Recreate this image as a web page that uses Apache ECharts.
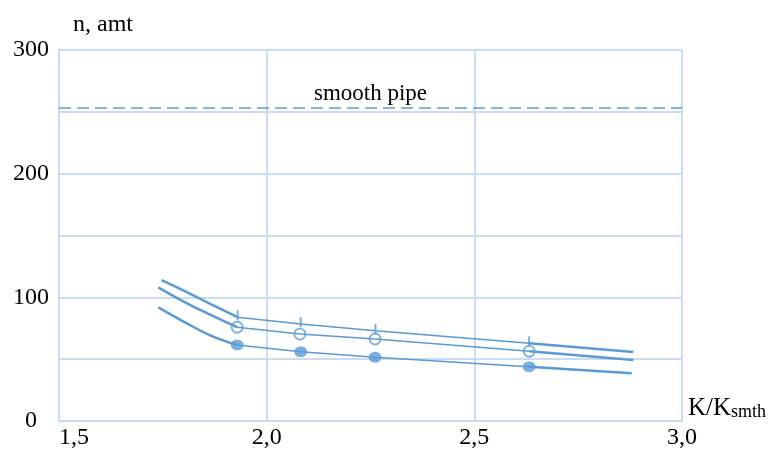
<!DOCTYPE html>
<html><head><meta charset="utf-8">
<script src="https://cdn.jsdelivr.net/npm/echarts@6.0.0/dist/echarts.min.js"></script>
<style>html,body{margin:0;padding:0;background:#fff}#c{width:776px;height:452px}</style>
</head><body><div id="c"></div>
<script>
const xTicks = [1.5, 2.0, 2.5, 3.0];
const yTicks = [0, 100, 200, 300];
const smoothPipe = 253;
const smoothPipeLabel = 'smooth pipe';
const kTop = [1.747, 1.799, 1.864, 1.930, 2.082, 2.262, 2.632, 2.883];
const nTop = [114.0, 105.7, 94.8, 83.9, 78.4, 73.0, 62.8, 55.8];
const kMid = [1.739, 1.799, 1.864, 1.929, 2.080, 2.261, 2.632, 2.883];
const nMid = [108.1, 96.8, 86.0, 75.8, 70.3, 66.3, 56.4, 49.3];
const kBot = [1.739, 1.799, 1.864, 1.929, 2.082, 2.261, 2.632, 2.879];
const nBot = [91.9, 80.6, 69.3, 61.5, 56.0, 51.5, 43.9, 38.6];
const markerIdx = [3, 4, 5, 6];

const BLUE = '#5b9bd5';
const GRID = '#cadcf2';
const FONT = '"Liberation Serif", "DejaVu Serif", serif';

function pts(k, n, from, to) {
  const out = [];
  for (let i = from; i <= to; i++) out.push([k[i], n[i]]);
  return out;
}
function curveSeries(k, n, marker) {
  const first = markerIdx[0], last = markerIdx[markerIdx.length - 1];
  return [
    { type: 'line', data: pts(k, n, 0, first), smooth: 0.4, showSymbol: false,
      lineStyle: { color: BLUE, width: 2.5 }, z: 3 },
    { type: 'line', data: pts(k, n, first, last), smooth: false, showSymbol: false,
      lineStyle: { color: BLUE, width: 1.5 }, z: 3 },
    { type: 'line', data: pts(k, n, last, k.length - 1), smooth: false, showSymbol: false,
      lineStyle: { color: BLUE, width: 2.5 }, z: 3 },
    Object.assign({ type: 'scatter', data: markerIdx.map(i => [k[i], n[i]]), z: 5 }, marker)
  ];
}

const series = [].concat(
  curveSeries(kTop, nTop, { symbol: 'rect', symbolSize: [2, 10], symbolOffset: [0, -2],
    itemStyle: { color: BLUE } }),
  curveSeries(kMid, nMid, { symbol: 'circle', symbolSize: 11,
    itemStyle: { color: 'rgba(0,0,0,0)', borderColor: BLUE, borderWidth: 1.8 } }),
  curveSeries(kBot, nBot, { symbol: 'circle', symbolSize: [13, 11],
    itemStyle: { color: BLUE } })
);
series.push({
  type: 'line', data: [], silent: true,
  markLine: {
    silent: true, symbol: ['none', 'none'],
    lineStyle: { color: BLUE, type: [12, 6], width: 1.6 },
    label: { formatter: smoothPipeLabel, position: 'insideMiddleTop', color: '#000',
      fontFamily: FONT, fontSize: 23, distance: 3 },
    data: [{ yAxis: smoothPipe }]
  }
});

const chart = echarts.init(document.getElementById('c'), null, { renderer: 'canvas' });
chart.setOption({
  animation: false,
  backgroundColor: '#fff',
  grid: { left: 59, right: 94, top: 50, bottom: 31 },
  xAxis: {
    type: 'value', min: xTicks[0], max: xTicks[xTicks.length - 1], interval: 0.5,
    name: 'K/K{s|smth}',
    nameLocation: 'end', nameGap: 6,
    nameTextStyle: {
      color: '#000', fontFamily: FONT, fontSize: 25, verticalAlign: 'bottom',
      rich: { s: { fontSize: 18, fontFamily: FONT, color: '#000', verticalAlign: 'bottom' } }
    },
    axisLine: { show: true, lineStyle: { color: GRID, width: 2 } },
    axisTick: { show: false },
    splitLine: { show: true, lineStyle: { color: GRID, width: 2 } },
    axisLabel: {
      color: '#000', fontFamily: FONT, fontSize: 24, margin: 5,
      alignMinLabel: 'left',
      formatter: v => xTicks.some(t => Math.abs(t - v) < 1e-9) ? v.toFixed(1).replace('.', ',') : ''
    }
  },
  yAxis: {
    type: 'value', min: yTicks[0], max: yTicks[yTicks.length - 1], interval: 50,
    name: 'n, amt', nameLocation: 'end', nameGap: 13,
    nameTextStyle: { color: '#000', fontFamily: FONT, fontSize: 24, align: 'left', padding: [0, 0, 0, 14] },
    axisLine: { show: true, lineStyle: { color: GRID, width: 2 } },
    axisTick: { show: false },
    splitLine: { show: true, lineStyle: { color: GRID, width: 2 } },
    axisLabel: {
      color: '#000', fontFamily: FONT, fontSize: 24, margin: 28, align: 'center',
      formatter: v => yTicks.includes(v) ? String(v) : ''
    }
  },
  series: series
});
</script>
</body></html>
